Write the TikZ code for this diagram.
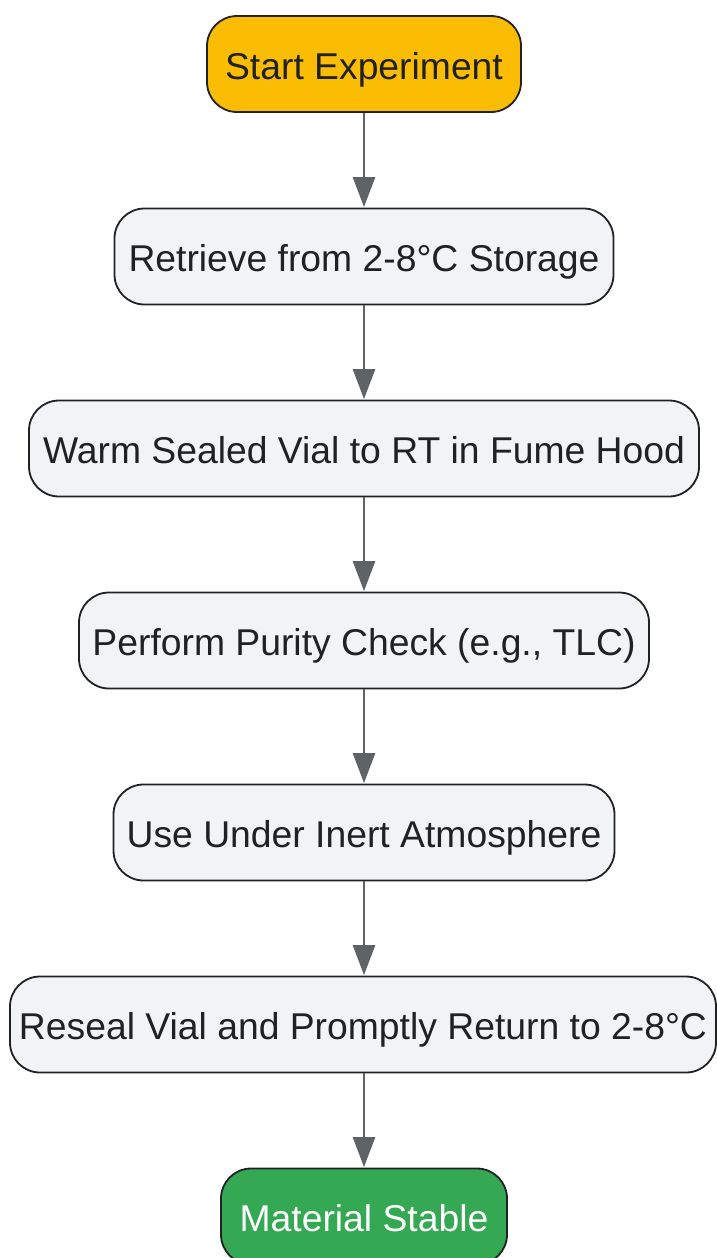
\documentclass[tikz,border=0pt]{standalone}
\usepackage{fontspec}
\setmainfont{Liberation Sans}
\usetikzlibrary{arrows.meta}
\definecolor{nodefill}{HTML}{F1F3F4}
\definecolor{nodeline}{HTML}{202124}
\definecolor{arrowgray}{HTML}{5F6368}
\definecolor{startfill}{HTML}{FBBC04}
\definecolor{endfill}{HTML}{34A853}
\tikzset{
  x=1pt,y=-1pt,
  stepbox/.style={draw=nodeline, line width=1.8pt, fill=nodefill, rounded corners=30pt,
    minimum height=96pt, inner sep=0pt, text=nodeline, text height=31pt, text depth=0.4pt,
    font=\fontsize{37.3}{44}\selectfont},
  startbox/.style={stepbox, fill=startfill},
  endbox/.style={stepbox, fill=endfill, text=white},
  flow/.style={draw=arrowgray, line width=2.6pt, -{Triangle[length=30pt,width=22pt]}, shorten >=0.5pt},
}
\begin{document}
\begin{tikzpicture}
\useasboundingbox (0,0) rectangle (717,1258);
\node[startbox, minimum width=314pt] (n1) at (364,64) {Start Experiment};
\node[stepbox, minimum width=499pt] (n2) at (364,256.5) {Retrieve from 2-8°C Storage};
\node[stepbox, minimum width=670pt] (n3) at (364,448.5) {Warm Sealed Vial to RT in Fume Hood};
\node[stepbox, minimum width=570pt] (n4) at (364,640.5) {Perform Purity Check (e.g., TLC)};
\node[stepbox, minimum width=501pt] (n5) at (364,832.5) {Use Under Inert Atmosphere};
\node[stepbox, minimum width=706pt] (n6) at (363,1024.5) {Reseal Vial and Promptly Return to 2-8°C};
\node[endbox, minimum width=286pt] (n7) at (364,1216.5) {Material Stable};
\draw[flow] (n1.south) -- (n2.north);
\draw[flow] (n2.south) -- (n3.north);
\draw[flow] (n3.south) -- (n4.north);
\draw[flow] (n4.south) -- (n5.north);
\draw[flow] (n5.south) -- (n5.south |- n6.north);
\draw[flow] (n6.south -| n7.north) -- (n7.north);
\end{tikzpicture}
\end{document}
